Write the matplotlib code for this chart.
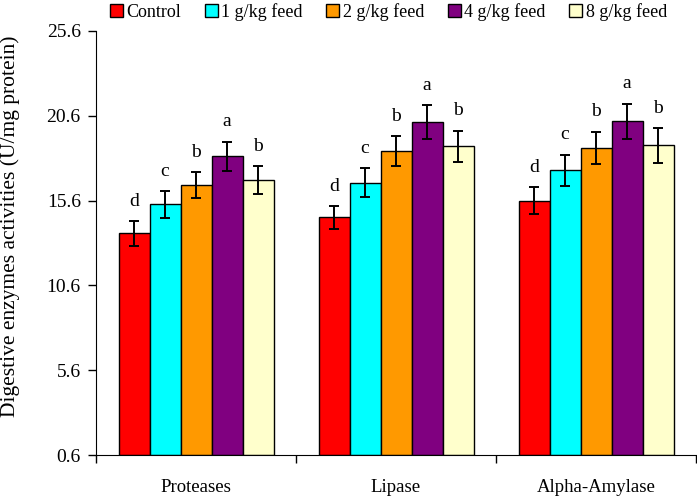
import matplotlib.pyplot as plt
import numpy as np

plt.rcParams['font.family'] = ['Liberation Serif', 'DejaVu Serif']

categories = ['Proteases', 'Lipase', 'Alpha-Amylase']
groups = ['Control', '1 g/kg feed', '2 g/kg feed', '4 g/kg feed', '8 g/kg feed']
colors = ['#ff0000', '#00ffff', '#ff9900', '#800080', '#ffffcc']

values = [
    [13.67, 14.61, 15.60],   # Control
    [15.38, 16.66, 17.39],   # 1 g/kg
    [16.52, 18.52, 18.72],   # 2 g/kg
    [18.21, 20.23, 20.27],   # 4 g/kg
    [16.81, 18.80, 18.86],   # 8 g/kg
]
errors = [
    [0.72, 0.68, 0.79],
    [0.78, 0.85, 0.92],
    [0.78, 0.90, 0.94],
    [0.87, 1.00, 1.04],
    [0.84, 0.92, 1.02],
]
letters = [
    ['d', 'd', 'd'],
    ['c', 'c', 'c'],
    ['b', 'b', 'b'],
    ['a', 'a', 'a'],
    ['b', 'b', 'b'],
]

fig = plt.figure(figsize=(6.97, 4.97), dpi=100)
ax = fig.add_axes([96 / 697, 1 - 455 / 497, 600 / 697, 424 / 497])

x = np.arange(len(categories))
w = 0.155
for i in range(len(groups)):
    pos = x + (i - 2) * w
    ax.bar(pos, np.array(values[i]) - 0.6, w, bottom=0.6, color=colors[i],
           edgecolor='black', linewidth=1, label=groups[i])
    ax.errorbar(pos, values[i], yerr=errors[i], fmt='none', ecolor='black',
                elinewidth=1.4, capsize=3.6, capthick=1.4)
    for j in range(len(categories)):
        ax.text(pos[j], values[i][j] + errors[i][j] + 0.9, letters[i][j],
                ha='center', va='baseline', fontsize=14)

ax.set_xlim(-0.5, 2.5)
ax.set_ylim(0.6, 25.6)
ax.set_yticks([0.6, 5.6, 10.6, 15.6, 20.6, 25.6])
ax.set_yticklabels(['0.6', '5.6', '10.6', '15.6', '20.6', '25.6'])
ax.set_xticks([-0.5, 0.5, 1.5, 2.5])
ax.set_xticklabels([])
ax.set_xticks(x, minor=True)
ax.set_xticklabels(categories, minor=True)
ax.tick_params(axis='x', which='minor', length=0, pad=17, labelsize=13.5)
ax.tick_params(axis='x', which='major', direction='out', length=6, width=1)
ax.tick_params(axis='y', direction='out', length=6, width=1, labelsize=14, pad=5)
for s in ['top', 'right']:
    ax.spines[s].set_visible(False)
ax.set_ylabel('Digestive enzymes activities (U/mg protein)', fontsize=15.5)
ax.yaxis.set_label_coords(-76 / 600, (455 - 226) / 424)

fig.legend(loc='center', bbox_to_anchor=(388.5 / 697, 1 - 12 / 497), ncol=5, frameon=False,
           fontsize=13, handlelength=0.72, handleheight=0.72, handletextpad=0.2,
           columnspacing=1.3, borderaxespad=0)

fig.savefig('out.png', dpi=100)
